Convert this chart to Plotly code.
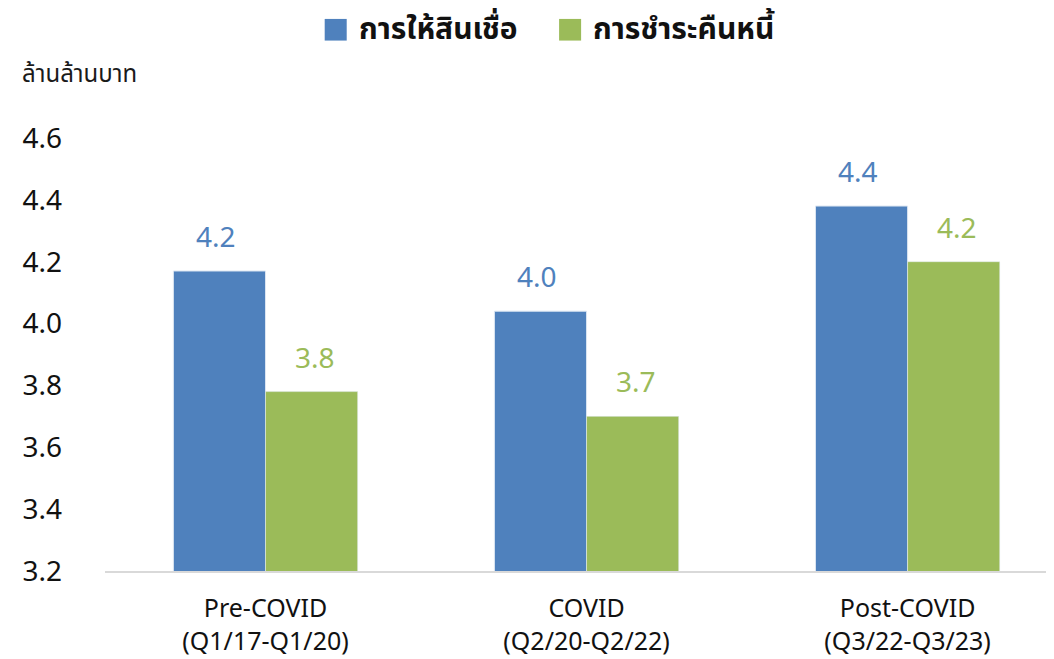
import plotly.graph_objects as go

# data
periods = ['Pre-COVID<br>(Q1/17-Q1/20)', 'COVID<br>(Q2/20-Q2/22)', 'Post-COVID<br>(Q3/22-Q3/23)']
lending = [4.17, 4.04, 4.38]
repayment = [3.78, 3.70, 4.20]
series_names = ['การให้สินเชื่อ', 'การชำระคืนหนี้']
y_ticks = [3.2, 3.4, 3.6, 3.8, 4.0, 4.2, 4.4, 4.6]

blue = '#4F81BD'
green = '#9BBB59'
FONT = 'Tahoma, Noto Sans Thai, Noto Sans, DejaVu Sans, sans-serif'

fig = go.Figure()
fig.add_trace(go.Bar(x=periods, y=lending, name=series_names[0],
                     marker=dict(color=blue, line=dict(color='#dce6f2', width=1))))
fig.add_trace(go.Bar(x=periods, y=repayment, name=series_names[1],
                     marker=dict(color=green)))

# value labels sit well above the bars, like the original
annots = []
for vals, col, off in [(lending, blue, -0.155), (repayment, green, 0.155)]:
    for i, v in enumerate(vals):
        annots.append(dict(x=i + off, y=v, xref='x', yref='y', text='{:.1f}'.format(v),
                           showarrow=False, yanchor='bottom', yshift=9,
                           font=dict(size=28, color=col, family=FONT)))

# legend drawn by hand so the swatches can be large
shapes = []
for x0, col, name in [(0.2315, blue, series_names[0]), (0.4785, green, series_names[1])]:
    shapes.append(dict(type='rect', xref='paper', yref='paper', x0=x0, x1=x0 + 0.0232,
                       y0=1.225, y1=1.275, fillcolor=col, line=dict(width=0)))
    annots.append(dict(x=x0 + 0.034, y=1.25, xref='paper', yref='paper', text='<b>' + name + '</b>',
                       showarrow=False, xanchor='left', yanchor='middle',
                       font=dict(size=30, color='#111111', family=FONT)))

annots.append(dict(text='ล้านล้านบาท', xref='paper', yref='paper', x=-0.09, y=1.145,
                   xanchor='left', yanchor='middle', showarrow=False,
                   font=dict(size=24, color='#1a1a1a', family=FONT)))

# page body has an 8px margin, so the figure is sized/offset to land where the original is
fig.update_layout(
    width=1046, height=651,
    barmode='group', bargap=0.426, bargroupgap=0,
    plot_bgcolor='white', paper_bgcolor='white',
    margin=dict(l=97, r=0, t=130, b=88, autoexpand=False),
    font=dict(family=FONT, color='#1a1a1a'),
    showlegend=False,
    shapes=shapes,
    annotations=annots,
)
fig.update_xaxes(range=[-0.5, 2.456], showline=True, linecolor='#d9d9d9', linewidth=2,
                 ticks='', tickfont=dict(size=25, color='#111111'), showgrid=False,
                 ticklabelstandoff=14, automargin=False)
fig.update_yaxes(range=[3.2, 4.6], tickvals=y_ticks, ticktext=['{:.1f}'.format(v) for v in y_ticks],
                 showgrid=False, zeroline=False, ticks='', ticklabelstandoff=42,
                 tickfont=dict(size=28, color='#111111'), automargin=False)
fig.write_html('out.html')
